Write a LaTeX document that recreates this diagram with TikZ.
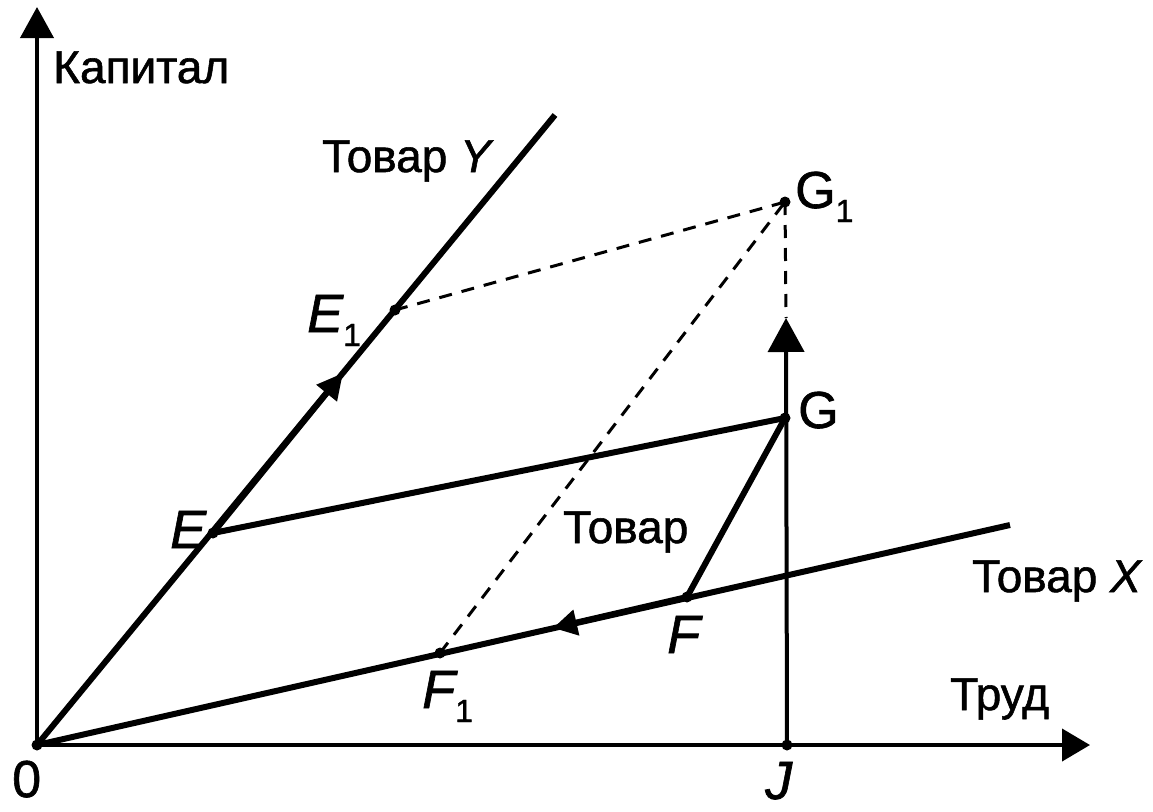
\documentclass[tikz,border=0pt]{standalone}
\usepackage{fontspec}
\setmainfont{Liberation Sans}[FakeBold=1.2]
\usetikzlibrary{arrows.meta,calc}
\newcommand\lowone{\raisebox{-14pt}{\fontsize{32}{32}\selectfont\upshape 1}}
\begin{document}
\begin{tikzpicture}[x=1pt,y=-1pt,
  thickline/.style={line width=6pt},
  axisline/.style={line width=4pt},
  dashline/.style={line width=3pt, dash pattern=on 13pt off 10pt},
  txt/.style={font=\fontsize{46}{50}\selectfont, inner sep=0pt, anchor=base west},
  ptlab/.style={font=\fontsize{54}{56}\selectfont\itshape, inner sep=0pt, anchor=base west},
  uplab/.style={font=\fontsize{52}{56}\selectfont, inner sep=0pt, anchor=base west},
  dot/.style={circle, fill, inner sep=0pt, minimum size=11pt}]
\useasboundingbox (0,0) rectangle (1153,811);
% points
\coordinate (O) at (37,745);
\coordinate (Ytop) at (37,7);
\coordinate (Xend) at (1090,745);
\coordinate (Yl) at (555,115);
\coordinate (Xl) at (1010,525);
\coordinate (E) at (213,533);
\coordinate (E1) at (395,310);
\coordinate (G) at (785,418);
\coordinate (G1) at (785,202);
\coordinate (F) at (687,597);
\coordinate (F1) at (440,653);
\coordinate (J) at (787,745);
\coordinate (Jtop) at (786,318);
\coordinate (YA) at (343,373);
\coordinate (XA) at (553,628);
% axes
\draw[axisline, -{Triangle[length=31pt,width=33pt]}] (O) -- (Ytop);
\draw[axisline, -{Triangle[length=28pt,width=32pt]}] (O) -- (Xend);
% rays
\draw[thickline] (O) -- (Yl);
\draw[thickline] (O) -- (Xl);
\draw[thickline, -{Triangle[length=26pt,width=25pt]}] (E) -- (YA);
\draw[thickline, -{Triangle[length=24pt,width=25pt]}] (F) -- (XA);
% E-G, F-G
\draw[thickline] (E) -- (G);
\draw[thickline] (F) -- (G);
% J vertical
\draw[axisline, -{Triangle[length=34pt,width=36pt]}] (J) -- (Jtop);
% dashed
\draw[dashline] (E1) -- (G1);
\draw[dashline] (F1) -- (G1);
\draw[dashline] (G1) -- (Jtop);
% dots
\foreach \p in {E,E1,G,G1,F,F1,J,O} \node[dot] at (\p) {};
% labels
\node[txt] (kap) at (53,83) {Капитал};
\node[txt] (ty) at (322,172) {Товар \textit{Y}};
\node[txt] (tov) at (563,543) {Товар};
\node[txt] (tx) at (972,592) {Товар \textit{X}};
\node[txt] (trud) at (950,710) {Труд};
\node[ptlab] (lE) at (170,548) {E};
\node[ptlab] (lE1) at (307,332) {E\lowone};
\node[uplab] (lG1) at (795,208) {G\lowone};
\node[uplab] (lG) at (798,428) {G};
\node[ptlab] (lF) at (667,653) {F};
\node[ptlab] (lF1) at (422,708) {F\lowone};
\node[ptlab] (lJ) at (765,799) {J};
\node[uplab] (l0) at (12,797) {0};
\end{tikzpicture}
\end{document}
